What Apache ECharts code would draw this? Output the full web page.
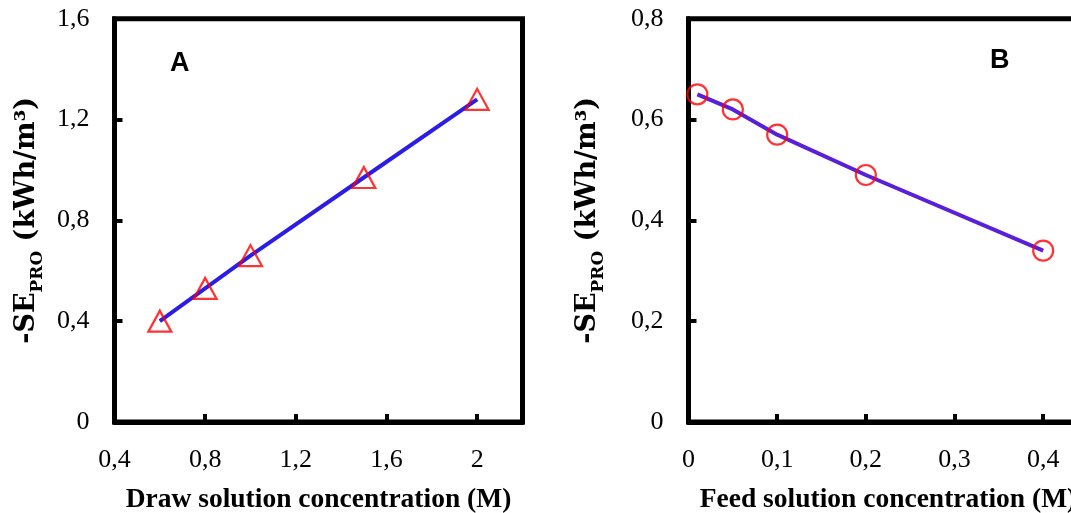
<!DOCTYPE html>
<html>
<head>
<meta charset="utf-8">
<script src="https://cdn.jsdelivr.net/npm/echarts@6/dist/echarts.min.js"></script>
<style>
  html, body { margin: 0; padding: 0; background: #fff; }
  #chart { width: 1071px; height: 513px; }
</style>
</head>
<body>
<div id="chart"></div>
<script>
// Panel A: specific energy vs draw solution concentration
const drawConc = [0.6, 0.8, 1.0, 1.5, 2.0];
const energyA  = [0.40, 0.53, 0.66, 0.97, 1.28];

// Panel B: specific energy vs feed solution concentration
const feedConc = [0.01, 0.05, 0.1, 0.2, 0.4];
const energyB  = [0.65, 0.62, 0.57, 0.49, 0.34];

const panelLabels = ['A', 'B'];
const xTitles = ['Draw solution concentration (M)', 'Feed solution concentration (M)'];
const yTitle = '{a|-SE}{b|PRO}{a| (kWh/m³)}';

const serif = 'Liberation Serif';
const titleSerif = 'DejaVu Serif';
const comma = v => String(Number(v.toFixed(3))).replace('.', ',');

const pairs = (xs, ys) => xs.map((x, i) => [x, ys[i]]);

function axisCommon() {
  return {
    axisLine: { show: true, lineStyle: { color: '#000', width: 5 } },
    axisTick: { show: true, inside: true, length: 8, lineStyle: { color: '#000', width: 4 } },
    splitLine: { show: false },
    axisLabel: {
      color: '#000', fontFamily: serif, fontSize: 26, margin: 25,
      formatter: comma, showMaxLabel: false
    }
  };
}

function yAxis(gridIndex, max, interval, gap) {
  const base = axisCommon();
  base.axisLabel.showMaxLabel = true;
  return Object.assign(base, {
    type: 'value', gridIndex, min: 0, max, interval,
    name: yTitle, nameLocation: 'middle', nameRotate: 90, nameGap: gap,
    nameTextStyle: {
      rich: {
        a: { fontFamily: titleSerif, fontWeight: 'bold', fontSize: 27, lineHeight: 34, color: '#000' },
        b: { fontFamily: titleSerif, fontWeight: 'bold', fontSize: 17, lineHeight: 34, padding: [22, 0, 0, 0], color: '#000' }
      }
    }
  });
}

function xAxis(gridIndex, min, max, interval, title) {
  const base = axisCommon();
  base.axisLabel.margin = 25;
  return Object.assign(base, {
    type: 'value', gridIndex, min, max, interval,
    name: title, nameLocation: 'middle', nameGap: 64,
    nameTextStyle: { fontFamily: serif, fontWeight: 'bold', fontSize: 27.5, color: '#000' }
  });
}

const gridBox = { show: true, borderColor: '#000', borderWidth: 5, backgroundColor: 'transparent', containLabel: false, outerBoundsMode: 'none' };

const chart = echarts.init(document.getElementById('chart'), null, { renderer: 'canvas' });

chart.setOption({
  backgroundColor: '#fff',
  animation: false,
  grid: [
    Object.assign({ left: 114.5, top: 18.7, width: 408, height: 403.3 }, gridBox),
    Object.assign({ left: 688.5, top: 18.7, width: 399, height: 403.3 }, gridBox)
  ],
  xAxis: [
    xAxis(0, 0.4, 2.2, 0.4, xTitles[0]),
    xAxis(1, 0, 0.45, 0.1, xTitles[1])
  ],
  yAxis: [
    yAxis(0, 1.6, 0.4, 71),
    yAxis(1, 0.8, 0.2, 84)
  ],
  graphic: [
    { type: 'text', left: 170, top: 50, style: { text: panelLabels[0], fontFamily: 'Liberation Sans', fontWeight: 'bold', fontSize: 27, fill: '#000' } },
    { type: 'text', left: 990, top: 47, style: { text: panelLabels[1], fontFamily: 'Liberation Sans', fontWeight: 'bold', fontSize: 27, fill: '#000' } }
  ],
  series: [
    {
      type: 'line', xAxisIndex: 0, yAxisIndex: 0,
      data: pairs(drawConc, energyA), showSymbol: false, symbol: 'none',
      lineStyle: { color: '#2b1de6', width: 4 }, z: 2
    },
    {
      type: 'scatter', xAxisIndex: 0, yAxisIndex: 0,
      data: pairs(drawConc, energyA), symbol: 'triangle', symbolSize: [23, 21],
      itemStyle: { color: 'rgba(255,255,255,0)', borderColor: '#ff0000', borderWidth: 2.2 }, z: 3
    },
    {
      type: 'line', xAxisIndex: 1, yAxisIndex: 1,
      data: pairs(feedConc, energyB), showSymbol: false, symbol: 'none',
      lineStyle: { color: '#5a1fd8', width: 4 }, z: 2
    },
    {
      type: 'scatter', xAxisIndex: 1, yAxisIndex: 1,
      data: pairs(feedConc, energyB), symbol: 'circle', symbolSize: 20,
      itemStyle: { color: 'rgba(255,255,255,0)', borderColor: '#ff0000', borderWidth: 2.2 }, z: 3
    }
  ]
});
</script>
</body>
</html>
